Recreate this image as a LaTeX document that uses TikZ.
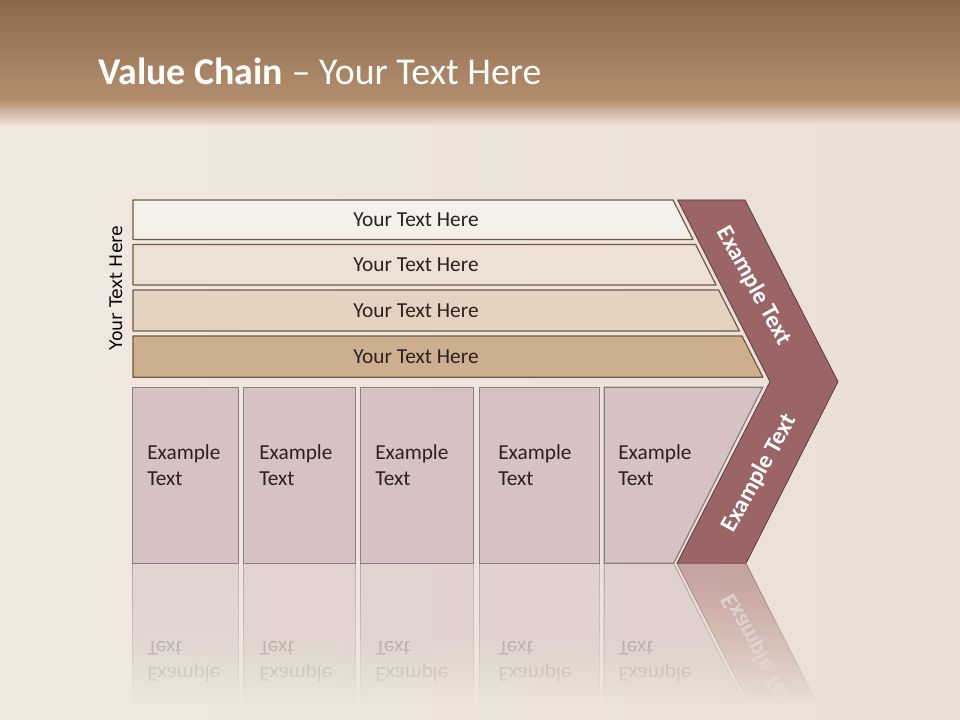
\documentclass[tikz,border=0pt]{standalone}
\usepackage{fontspec}
\setmainfont{Carlito}
\newfontfamily\dejavu{DejaVu Sans}
\definecolor{bgL}{HTML}{F1E9E0}
\definecolor{bgR}{HTML}{EADFD6}
\definecolor{banTop}{HTML}{8A6949}
\definecolor{banBot}{HTML}{B38F6E}
\definecolor{barA}{HTML}{F4F0EA}
\definecolor{barB}{HTML}{EDE1D5}
\definecolor{barC}{HTML}{E5D3C1}
\definecolor{barD}{HTML}{CDAE8F}
\definecolor{barline}{HTML}{735845}
\definecolor{boxfill}{HTML}{D6C2C3}
\definecolor{boxline}{HTML}{8A7F80}
\definecolor{chevfill}{HTML}{9B6566}
\definecolor{chevline}{HTML}{5E3C3C}
\definecolor{txtdark}{HTML}{2B2220}
\newcommand{\boxset}{%
  \foreach \n/\l/\r/\t in {1/132.3/238.3/147, 2/243.3/355.3/259, 3/360.3/473.3/375, 4/479.3/599.3/498}{%
    \draw[boxshape] (\l,387.3) rectangle (\r,563.3);
    \node[boxtxt] (b\n e) at (\t,459) {Example};
    \node[boxtxt] (b\n t) at (\t,485) {Text};
  }%
  \draw[boxshape] (604.3,387.3) -- (762.7,387.3) -- (673.7,563.3) -- (604.3,563.3) -- cycle;
  \node[boxtxt] (b5e) at (618,459) {Example};
  \node[boxtxt] (b5t) at (618,485) {Text};
  \draw[chevshape] (677.7,200) -- (745,200) -- (838,381.7) -- (746,563.3) -- (677,563.3) -- (770,381.7) -- cycle;
  \node[chevtxt, rotate=-61] (c1) at (754,286) {Example Text};
  \node[chevtxt, rotate=61] (c2) at (759.5,473.5) {Example Text};
}
\begin{document}
\begin{tikzpicture}[x=0.75pt,y=-0.75pt,
  barshape/.style={draw=barline, line width=0.9pt, line join=round},
  boxshape/.style={draw=boxline, fill=boxfill, line width=0.9pt},
  chevshape/.style={draw=chevline, fill=chevfill, line width=0.6pt, line join=miter},
  bartxt/.style={inner sep=0pt, text=txtdark, font=\fontsize{16}{19.5}\selectfont},
  boxtxt/.style={inner sep=0pt, anchor=base west, text=txtdark, font=\fontsize{16}{19.5}\selectfont},
  chevtxt/.style={inner sep=0pt, text=white, font=\bfseries\fontsize{18}{22}\selectfont}]
\useasboundingbox (0,0) rectangle (960,720);
% background
\shade[left color=bgL, right color=bgR] (0,0) rectangle (960,720);
\shade[top color=banTop, bottom color=banBot] (0,0) rectangle (960,100);
\shade[top color=banBot, bottom color=bgL!60!bgR] (0,100) rectangle (960,126);
% title
\node[anchor=base west, inner sep=0pt, text=white, font=\fontsize{28.4}{34}\selectfont] (title) at (98,85) {\textbf{Value Chain} – Your Text Here};
% left label
\node[rotate=90, inner sep=0pt, text=black, font=\dejavu\fontsize{13}{15}\selectfont] (side) at (116,288) {Your Text Here};
% bars
\draw[barshape, fill=barA] (133,200) -- (673,200) -- (693.0,239.5) -- (133,239.5) -- cycle;
\draw[barshape, fill=barB] (133,244.5) -- (695.6,244.5) -- (716.1,285) -- (133,285) -- cycle;
\draw[barshape, fill=barC] (133,290) -- (718.6,290) -- (739.4,331) -- (133,331) -- cycle;
\draw[barshape, fill=barD] (133,336) -- (742.0,336) -- (762.9,377.3) -- (133,377.3) -- cycle;
\node[bartxt] (t1) at (416,219.5) {Your Text Here};
\node[bartxt] (t2) at (416,265) {Your Text Here};
\node[bartxt] (t3) at (416,310.5) {Your Text Here};
\node[bartxt] (t4) at (416,356.5) {Your Text Here};
% reflection (drawn once, then faded by stacked background veils)
\begin{scope}
  \clip (100,564.5) rectangle (900,706);
  \begin{scope}[opacity=0.5, shift={(0,1126.6)}, yscale=-1, transform shape]
    \boxset
  \end{scope}
\end{scope}
\foreach \k in {1,...,35}{
  \pgfmathsetmacro\op{1/(36-\k)}
  \shade[left color=bgL, right color=bgR, opacity=\op] (0,{563.3+4*\k}) rectangle (960,721);
}
% boxes and chevron
\boxset
\end{tikzpicture}
\end{document}
